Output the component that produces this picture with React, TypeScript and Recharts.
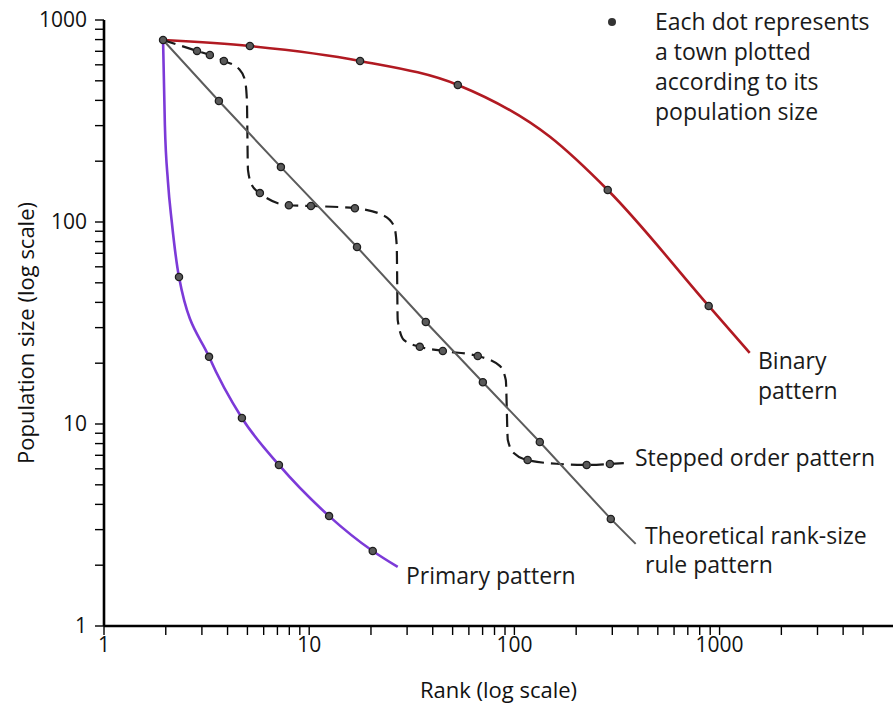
import { CartesianGrid, Line, LineChart, XAxis, YAxis } from "recharts";

// rank / population (log-log)
const binaryRank = [1.94, 5.14, 17.7, 53.0, 149, 285, 885, 1402];
const binaryPop = [796, 743, 627, 477, 264, 144, 38.4, 22.5];
const binaryDot = [false, true, true, true, false, true, true, false];

const primaryRank = [1.94, 1.98, 2.05, 2.14, 2.32, 3.25, 4.7, 7.12, 12.5, 20.4, 27.0];
const primaryPop = [796, 302, 158, 100, 53.4, 21.5, 10.7, 6.27, 3.5, 2.35, 1.96];
const primaryDot = [false, false, false, false, true, true, true, true, true, true, false];

const theoryRank = [1.94, 3.63, 7.28, 17.1, 37.0, 70.2, 133, 295, 390];
const theoryPop = [796, 397, 187, 75.2, 32.0, 16.1, 8.15, 3.39, 2.55];
const theoryDot = [true, true, true, true, true, true, true, true, false];

const steppedRank = [
  1.94, 2.84, 3.28, 3.84, 4.55, 4.86, 4.97, 5.03, 5.26, 5.75, 7.96, 10.2, 16.7,
  22.9, 25.9, 26.7, 27.0, 28.9, 34.6, 44.8, 66.3, 84.9, 90.8, 92.9, 99.3, 116,
  166, 225, 292, 353,
];
const steppedPop = [
  796, 703, 671, 627, 572, 505, 402, 181, 152, 139, 121, 120, 117,
  108, 95.5, 76.9, 32.7, 26.1, 24.1, 23.0, 21.7, 19.4, 16.5, 8.33, 7.18, 6.63,
  6.34, 6.27, 6.34, 6.41,
];
const steppedDot = [
  false, true, true, true, false, false, false, false, false, true, true, true, true,
  false, false, false, false, false, true, true, true, false, false, false, false, true,
  false, true, true, false,
];

const xTicks = [
  1, 2, 3, 4, 5, 6, 7, 8, 9, 10, 20, 30, 40, 50, 60, 70, 80, 90, 100, 200, 300, 400,
  500, 600, 700, 800, 900, 1000, 2000, 3000, 4000, 5000,
];
const yTicks = [
  1, 2, 3, 4, 5, 6, 7, 8, 9, 10, 20, 30, 40, 50, 60, 70, 80, 90, 100, 200, 300, 400,
  500, 600, 700, 800, 900, 1000,
];
const majorTicks = [1, 10, 100, 1000];

const toPoints = (rank: number[], pop: number[], dot: boolean[]) =>
  rank.map((r, i) => ({ rank: r, pop: pop[i], dot: dot[i] }));

const binary = toPoints(binaryRank, binaryPop, binaryDot);
const primary = toPoints(primaryRank, primaryPop, primaryDot);
const theory = toPoints(theoryRank, theoryPop, theoryDot);
const stepped = toPoints(steppedRank, steppedPop, steppedDot);

const FONT = "'Open Sans', sans-serif";

const renderDot = (props: any) => {
  const { cx, cy, payload, index } = props;
  if (!payload.dot) return <g key={`n${index}`} />;
  return (
    <circle key={`d${index}`} cx={cx} cy={cy} r={3.6} fill="#5a5a5a" stroke="#1e1e1e" strokeWidth={1.3} />
  );
};

const fmt = (v: number) => (majorTicks.includes(v) ? String(v) : "");

const note: React.CSSProperties = {
  position: "absolute",
  fontFamily: FONT,
  fontSize: 23,
  lineHeight: "30px",
  color: "#1a1a1a",
  whiteSpace: "nowrap",
};

export default function App() {
  return (
    <div style={{ position: "absolute", left: 0, top: 0, width: 893, height: 708, background: "#fff" }}>
      <LineChart
        width={893}
        height={708}
        margin={{ top: 20, right: 0, bottom: 0, left: 0 }}
        style={{ fontFamily: FONT }}
      >
        <CartesianGrid stroke="none" />
        <XAxis
          type="number"
          dataKey="rank"
          scale="log"
          domain={[1, 7000]}
          allowDataOverflow
          ticks={xTicks}
          tickFormatter={fmt}
          interval={0}
          height={82}
          tickSize={9}
          tickMargin={2}
          axisLine={{ stroke: "#000", strokeWidth: 2.6 }}
          tickLine={{ stroke: "#000", strokeWidth: 1.4 }}
          tick={{ fill: "#111", fontSize: 21 }}
          label={{
            value: "Rank (log scale)",
            position: "insideBottom",
            offset: 10,
            style: { fill: "#111", fontSize: 22, fontFamily: FONT },
          }}
        />
        <YAxis
          type="number"
          dataKey="pop"
          scale="log"
          domain={[1, 1000]}
          allowDataOverflow
          ticks={yTicks}
          tickFormatter={fmt}
          interval={0}
          width={104}
          tickSize={9}
          tickMargin={8}
          axisLine={{ stroke: "#000", strokeWidth: 2.6 }}
          tickLine={{ stroke: "#000", strokeWidth: 1.4 }}
          tick={{ fill: "#111", fontSize: 21 }}
          label={{
            value: "Population size (log scale)",
            angle: -90,
            position: "insideLeft",
            offset: 26,
            dy: 10,
            style: { fill: "#111", fontSize: 22, fontFamily: FONT, textAnchor: "middle" },
          }}
        />
        <Line
          data={binary}
          dataKey="pop"
          type="monotone"
          stroke="#b11a22"
          strokeWidth={2.6}
          dot={renderDot}
          activeDot={false}
          isAnimationActive={false}
        />
        <Line
          data={primary}
          dataKey="pop"
          type="monotone"
          stroke="#7c3ad8"
          strokeWidth={2.6}
          dot={renderDot}
          activeDot={false}
          isAnimationActive={false}
        />
        <Line
          data={stepped}
          dataKey="pop"
          type="monotone"
          stroke="#1a1a1a"
          strokeWidth={2.2}
          strokeDasharray="13 7"
          dot={renderDot}
          activeDot={false}
          isAnimationActive={false}
        />
        <Line
          data={theory}
          dataKey="pop"
          type="linear"
          stroke="#5c5c5c"
          strokeWidth={2}
          dot={renderDot}
          activeDot={false}
          isAnimationActive={false}
        />
      </LineChart>

      <div
        style={{
          position: "absolute",
          left: 608,
          top: 18,
          width: 8,
          height: 8,
          borderRadius: 4,
          background: "#333",
        }}
      />
      <div style={{ ...note, left: 655, top: 6 }}>
        Each dot represents
        <br />a town plotted
        <br />according to its
        <br />population size
      </div>
      <div style={{ ...note, left: 758, top: 345 }}>
        Binary
        <br />
        pattern
      </div>
      <div style={{ ...note, left: 635, top: 442 }}>Stepped order pattern</div>
      <div style={{ ...note, left: 645, top: 521, lineHeight: "29px" }}>
        Theoretical rank-size
        <br />
        rule pattern
      </div>
      <div style={{ ...note, left: 406, top: 560 }}>Primary pattern</div>
    </div>
  );
}
